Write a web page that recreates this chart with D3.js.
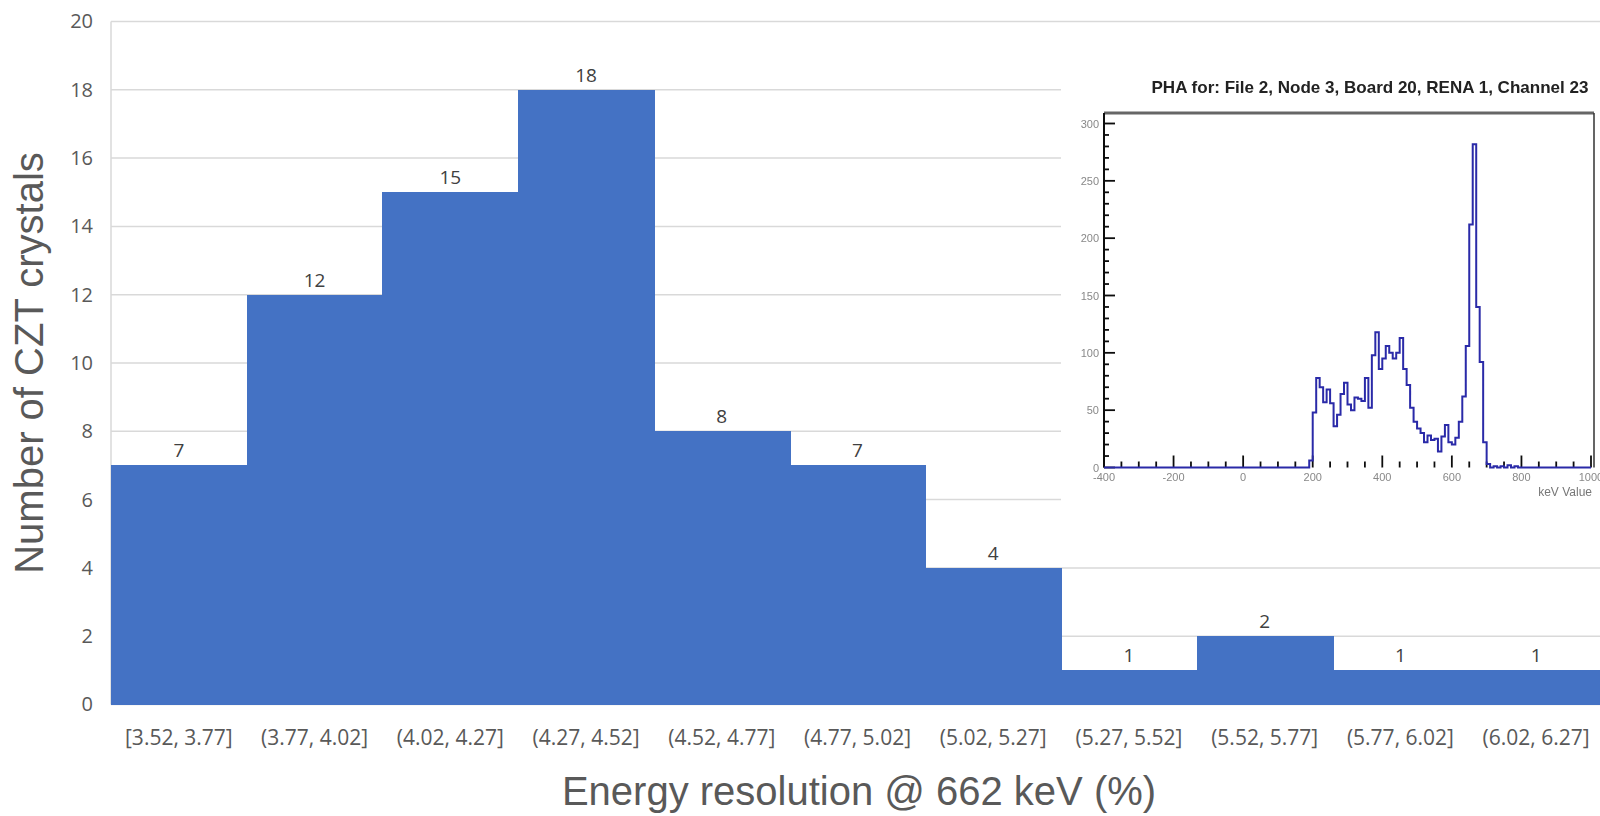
<!DOCTYPE html>
<html>
<head>
<meta charset="utf-8">
<script src="https://cdn.jsdelivr.net/npm/d3@7"></script>
<style>
  html, body { margin: 0; padding: 0; background: #ffffff; overflow: hidden; }
  svg { display: block; }
</style>
</head>
<body>
<svg id="chart" width="1600" height="816"></svg>
<script>
// ---------------- main histogram data ----------------
const categories = ["[3.52, 3.77]", "(3.77, 4.02]", "(4.02, 4.27]", "(4.27, 4.52]", "(4.52, 4.77]",
  "(4.77, 5.02]", "(5.02, 5.27]", "(5.27, 5.52]", "(5.52, 5.77]", "(5.77, 6.02]", "(6.02, 6.27]"];
const counts = [7, 12, 15, 18, 8, 7, 4, 1, 2, 1, 1];
const yTickValues = [0, 2, 4, 6, 8, 10, 12, 14, 16, 18, 20];
const xTitle = "Energy resolution @ 662 keV (%)";
const yTitle = "Number of CZT crystals";

// ---------------- inset spectrum data (PHA) ----------------
const insetTitle = "PHA for: File 2, Node 3, Board 20, RENA 1, Channel 23";
const phaEnergy = [180, 190, 200, 210, 220, 230, 240, 250, 260, 270, 280, 290, 300, 310, 320, 330, 340,
  350, 360, 370, 380, 390, 400, 410, 420, 430, 440, 450, 460, 470, 480, 490, 500, 510, 520, 530, 540,
  550, 560, 570, 580, 590, 600, 610, 620, 630, 640, 650, 660, 670, 680, 690, 700, 710, 720, 730, 740,
  750, 760, 770, 780, 790];
const phaCounts = [0, 6, 48, 78, 70, 57, 68, 56, 36, 46, 64, 74, 55, 50, 61, 60, 58,
  78, 52, 98, 118, 86, 95, 106, 100, 95, 100, 113, 86, 72, 52, 40, 34, 30, 22, 28, 24,
  25, 14, 27, 37, 22, 20, 26, 40, 62, 106, 212, 282, 140, 92, 22, 3, 0, 1, 0, 1, 0, 2, 0, 1, 0];
const insetXTicks = [-400, -200, 0, 200, 400, 600, 800, 1000];
const insetYTicks = [0, 50, 100, 150, 200, 250, 300];
const insetXLabel = "keV Value";

// ---------------- drawing ----------------
const svg = d3.select("#chart");
const plotLeft = 111, plotRight = 1604, plotTop = 21.5, plotBottom = 704.5;

const x = d3.scaleBand().domain(categories).range([plotLeft, plotRight]).padding(0);
const y = d3.scaleLinear().domain([0, 20]).range([plotBottom, plotTop]);

// gridlines
svg.append("g").selectAll("line").data(yTickValues).join("line")
  .attr("x1", plotLeft).attr("x2", 1600)
  .attr("y1", d => y(d)).attr("y2", d => y(d))
  .attr("stroke", "#d9d9d9").attr("stroke-width", 1.5);
// left plot border
svg.append("line").attr("x1", plotLeft).attr("x2", plotLeft)
  .attr("y1", plotTop).attr("y2", plotBottom)
  .attr("stroke", "#d9d9d9").attr("stroke-width", 1.5);

// bars
svg.append("g").attr("shape-rendering", "crispEdges").selectAll("rect").data(counts).join("rect")
  .attr("x", (d, i) => x(categories[i]))
  .attr("width", x.bandwidth() + 1)
  .attr("y", d => y(d))
  .attr("height", d => y(0) - y(d))
  .attr("fill", "#4472C4");

// data labels
svg.append("g").selectAll("text").data(counts).join("text")
  .attr("x", (d, i) => x(categories[i]) + x.bandwidth() / 2)
  .attr("y", d => y(d) - 8)
  .attr("text-anchor", "middle")
  .attr("font-family", "'Open Sans', sans-serif")
  .attr("font-size", 19)
  .attr("fill", "#404040")
  .text(d => d);

// y axis labels
const yAxis = d3.axisLeft(y).tickValues(yTickValues).tickSize(0).tickPadding(18);
const gy = svg.append("g").attr("transform", `translate(${plotLeft},0)`).call(yAxis);
gy.select(".domain").remove();
gy.selectAll("text").attr("font-family", "'Open Sans', sans-serif").attr("font-size", 20)
  .attr("fill", "#595959");

// x axis labels
const xAxis = d3.axisBottom(x).tickSize(0).tickPadding(26);
const gx = svg.append("g").attr("transform", `translate(0,${plotBottom})`).call(xAxis);
gx.select(".domain").remove();
gx.selectAll("text").attr("font-family", "'Open Sans', sans-serif").attr("font-size", 21)
  .attr("fill", "#595959");

// axis titles
svg.append("text").attr("x", 859).attr("y", 805).attr("text-anchor", "middle")
  .attr("font-family", "'Liberation Sans', Arial, sans-serif").attr("font-size", 40)
  .attr("fill", "#595959").text(xTitle);
svg.append("text").attr("transform", "translate(43,363) rotate(-90)").attr("text-anchor", "middle")
  .attr("font-family", "'Liberation Sans', Arial, sans-serif").attr("font-size", 40)
  .attr("fill", "#595959").text(yTitle);

// ---------------- inset ----------------
const defs = svg.append("defs");
defs.append("filter").attr("id", "soft").attr("x", "-5%").attr("y", "-5%").attr("width", "110%").attr("height", "110%")
  .append("feGaussianBlur").attr("stdDeviation", 0.6);

const inset = svg.append("g");
inset.append("rect").attr("x", 1061).attr("y", 30).attr("width", 560).attr("height", 475).attr("fill", "#ffffff");
const ig = inset.append("g").attr("filter", "url(#soft)");

const ix = d3.scaleLinear().domain([-400, 1000]).range([1104, 1591]);
const iy = d3.scaleLinear().domain([0, 300]).range([467.5, 123.5]);
const frameTop = 113, frameRight = 1594;

ig.append("text").attr("x", 1370).attr("y", 93).attr("text-anchor", "middle")
  .attr("font-family", "'Liberation Sans', Arial, sans-serif").attr("font-size", 17).attr("font-weight", "bold")
  .attr("textLength", 437).attr("lengthAdjust", "spacingAndGlyphs")
  .attr("fill", "#222").text(insetTitle);

// frame
ig.append("line").attr("x1", 1104).attr("x2", frameRight).attr("y1", frameTop).attr("y2", frameTop)
  .attr("stroke", "#666").attr("stroke-width", 3);
ig.append("line").attr("x1", frameRight).attr("x2", frameRight).attr("y1", frameTop).attr("y2", iy(0))
  .attr("stroke", "#333").attr("stroke-width", 1.5);
ig.append("line").attr("x1", 1104).attr("x2", 1104).attr("y1", frameTop).attr("y2", iy(0))
  .attr("stroke", "#111").attr("stroke-width", 2);

// y ticks (major every 50, minor every 10)
const yMinor = d3.range(0, 301, 10);
ig.append("g").selectAll("line").data(yMinor).join("line")
  .attr("x1", 1104).attr("x2", d => 1104 + (d % 50 === 0 ? 11 : 5))
  .attr("y1", d => iy(d)).attr("y2", d => iy(d))
  .attr("stroke", "#111").attr("stroke-width", 1.8);
ig.append("g").selectAll("text").data(insetYTicks).join("text")
  .attr("x", 1099).attr("y", d => iy(d) + 4).attr("text-anchor", "end")
  .attr("font-family", "'Liberation Sans', Arial, sans-serif").attr("font-size", 11)
  .attr("fill", "#888").text(d => d);

// x ticks (major every 200, minor every 50)
const xMinor = d3.range(-400, 1001, 50);
ig.append("g").selectAll("line").data(xMinor).join("line")
  .attr("x1", d => ix(d)).attr("x2", d => ix(d))
  .attr("y1", iy(0)).attr("y2", d => iy(0) - (d % 200 === 0 ? 12 : 6))
  .attr("stroke", "#111").attr("stroke-width", 1.8);
ig.append("g").selectAll("text").data(insetXTicks).join("text")
  .attr("x", d => ix(d)).attr("y", 481).attr("text-anchor", "middle")
  .attr("font-family", "'Liberation Sans', Arial, sans-serif").attr("font-size", 11)
  .attr("fill", "#888").text(d => d);
ig.append("text").attr("x", 1592).attr("y", 496).attr("text-anchor", "end")
  .attr("font-family", "'Liberation Sans', Arial, sans-serif").attr("font-size", 12)
  .attr("fill", "#777").text(insetXLabel);

// spectrum step line
const pts = [[-400, 0]].concat(phaEnergy.map((e, i) => [e, phaCounts[i]]), [[1000, 0]]);
const line = d3.line().x(d => ix(d[0])).y(d => iy(d[1])).curve(d3.curveStepAfter);
ig.append("path").attr("d", line(pts)).attr("fill", "none")
  .attr("stroke", "#2a2aa8").attr("stroke-width", 2);
</script>
</body>
</html>
